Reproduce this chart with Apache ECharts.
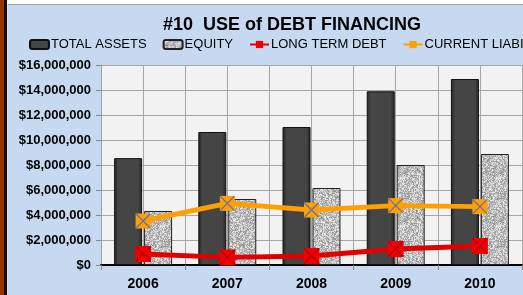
<!DOCTYPE html>
<html><head><meta charset="utf-8">
<script src="https://cdn.jsdelivr.net/npm/echarts@6/dist/echarts.min.js"></script>
<style>html,body{margin:0;padding:0;background:#c6d9f1;}#c{width:523px;height:295px;}</style>
</head><body><div id="c"></div>
<script>
const categories = ['2006','2007','2008','2009','2010'];
const totalAssets = [8550000, 10640000, 11040000, 13900000, 14880000];
const equity = [4320000, 5280000, 6160000, 8000000, 8880000];
const longTermDebt = [880000, 610000, 720000, 1280000, 1520000];
const currentLiab = [3520000, 4930000, 4400000, 4750000, 4670000];
const yTicks = [0, 2000000, 4000000, 6000000, 8000000, 10000000, 12000000, 14000000, 16000000];

// granite texture for equity bars
const tex = document.createElement('canvas');
tex.width = 48; tex.height = 48;
const tc = tex.getContext('2d');
function h(x, y) { let n = x * 374761393 + y * 668265263; n = (n ^ (n >>> 13)) * 1274126177; n = n ^ (n >>> 16); return (n >>> 0) / 4294967295; }
for (let y = 0; y < 48; y++) for (let x = 0; x < 48; x++) {
  const v = Math.round(140 + 100 * h(x, y));
  tc.fillStyle = 'rgb(' + v + ',' + v + ',' + v + ')';
  tc.fillRect(x, y, 1, 1);
}

function fmt(v) { return '$' + v.toLocaleString('en-US'); }

const chart = echarts.init(document.getElementById('c'));
chart.setOption({
  animation: false,
  backgroundColor: '#c6d9f1',
  textStyle: { fontFamily: 'Liberation Sans, Arial, sans-serif' },
  title: {
    text: '#10  USE of DEBT FINANCING',
    left: 158, top: 11,
    textStyle: { fontSize: 18, fontWeight: 'bold', color: '#000' }
  },
  legend: {
    left: 29, top: 38, width: 800, padding: 0, itemWidth: 19, itemHeight: 9, itemGap: 16,
    textStyle: { fontSize: 13, color: '#000', padding: [0, 0, 0, -3] },
    data: ['TOTAL ASSETS', 'EQUITY', 'LONG TERM DEBT', 'CURRENT LIABILITIES']
  },
  graphic: [
    { type: 'rect', shape: { x: 0, y: 0, width: 523, height: 4 }, style: { fill: '#ffffff' }, z: 100 },
    { type: 'rect', shape: { x: 0, y: 4, width: 523, height: 1 }, style: { fill: '#a0a0a0' }, z: 100 },
    { type: 'rect', shape: { x: 0, y: 0, width: 4, height: 295 }, style: { fill: '#9a3300' }, z: 101 },
    { type: 'rect', shape: { x: 4, y: 0, width: 3, height: 295 }, style: { fill: '#111' }, z: 101 },
    { type: 'rect', shape: { x: 7, y: 4, width: 1, height: 291 }, style: { fill: '#e0e0e0' }, z: 101 }
  ],
  grid: { left: 101, right: 1, top: 65, bottom: 30, show: true, backgroundColor: '#f2f2f2', borderWidth: 0 },
  xAxis: [{
    type: 'category', data: categories,
    axisLine: { lineStyle: { color: '#000', width: 2 } },
    axisTick: { show: true, length: 5, lineStyle: { color: '#888' } },
    axisLabel: { fontSize: 14, fontWeight: 'bold', color: '#000', margin: 12 },
    splitLine: { show: false }
  }, {
    type: 'value', min: 0, max: 10, interval: 1, position: 'bottom',
    axisLine: { show: false }, axisTick: { show: false }, axisLabel: { show: false },
    splitLine: { show: true, lineStyle: { color: '#a6a6a6', width: 1 } }
  }],
  yAxis: {
    type: 'value', min: 0, max: 16000000, interval: 2000000,
    axisLine: { show: true, lineStyle: { color: '#a0a0a0' } },
    axisTick: { show: true, length: 5, lineStyle: { color: '#888' } },
    axisLabel: { fontSize: 13, fontWeight: 'bold', color: '#000', margin: 10,
      formatter: v => yTicks.indexOf(v) >= 0 ? fmt(v) : '' },
    splitLine: { show: true, lineStyle: { color: '#a6a6a6', width: 1 } }
  },
  series: [
    { name: 'TOTAL ASSETS', type: 'bar', data: totalAssets, barWidth: 28, barGap: '7%',
      itemStyle: { borderColor: '#111', borderWidth: 1,
        color: { type: 'linear', x: 0, y: 0, x2: 1, y2: 0, colorStops: [
          { offset: 0, color: '#262626' }, { offset: 0.15, color: '#454545' },
          { offset: 0.85, color: '#454545' }, { offset: 1, color: '#262626' }] } } },
    { name: 'EQUITY', type: 'bar', data: equity, barWidth: 28,
      itemStyle: { borderColor: '#222', borderWidth: 1, color: { image: tex, repeat: 'repeat' } } },
    { name: 'LONG TERM DEBT', type: 'line', data: longTermDebt, z: 5,
      lineStyle: { color: '#e00000', width: 5 },
      itemStyle: { color: '#f00000' }, symbol: 'rect', symbolSize: 16 },
    { name: 'CURRENT LIABILITIES', type: 'line', data: currentLiab, z: 5,
      lineStyle: { color: '#ffa000', width: 5 },
      itemStyle: { color: '#ffa000' }, symbol: 'rect', symbolSize: 15 },
    { type: 'scatter', data: longTermDebt, z: 6, symbol: 'path://M0,0L10,10M10,0L0,10', symbolSize: 15,
      itemStyle: { color: 'transparent', borderColor: '#b00000', borderWidth: 1.3, opacity: 1 }, silent: true },
    { type: 'scatter', data: currentLiab, z: 6, symbol: 'path://M0,0L10,10M10,0L0,10', symbolSize: 14,
      itemStyle: { color: 'transparent', borderColor: '#6070b0', borderWidth: 1.3, opacity: 1 }, silent: true }
  ]
});
</script></body></html>
